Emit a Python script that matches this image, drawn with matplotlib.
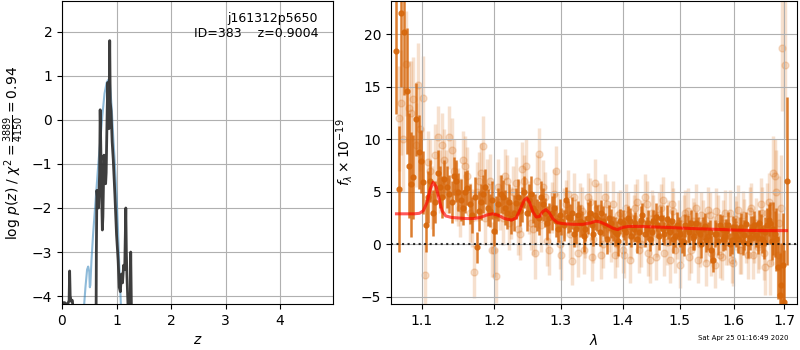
import matplotlib
matplotlib.use("Agg")
import matplotlib.pyplot as plt
from matplotlib.ticker import NullLocator, FixedLocator, FixedFormatter

# ---------------- p(z) panel data ----------------
pz_z = [0.00, 0.05, 0.10, 0.13, 0.14, 0.15, 0.17, 0.19, 0.20, 0.22,
        0.62, 0.63, 0.64, 0.66, 0.67, 0.69, 0.70, 0.71, 0.72, 0.74,
        0.75, 0.77, 0.78, 0.80, 0.81, 0.83, 0.84, 0.86, 0.875, 0.885,
        0.90, 0.92, 0.94, 0.97, 1.00, 1.03, 1.05, 1.07, 1.09, 1.11,
        1.13, 1.15, 1.17, 1.18, 1.19, 1.21, 1.22, 1.24, 1.26, 1.27,
        1.29, 1.31]
pz_logp = [-4.15, -4.15, -4.20, -4.10, -3.43, -4.00, -4.12, -4.10, -4.25, -6.0,
           -6.0, -3.0, -1.6, -1.9, -2.0, -1.2, 0.23, -0.5, -1.3, -2.5,
           -2.2, -0.8, -1.0, -1.45, -1.2, 0.3, 0.85, -0.2, 1.8, 0.4,
           0.2, -0.5, -0.9, -1.7, -2.6, -3.2, -3.8, -3.9, -3.5, -3.7,
           -3.3, -3.4, -2.0, -3.0, -3.5, -4.2, -6.0, -6.0, -3.0, -4.0,
           -6.0, -6.0]

chi_z = [0.40, 0.43, 0.46, 0.48, 0.50, 0.51, 0.52, 0.54, 0.57, 0.60,
         0.63, 0.66, 0.70, 0.74, 0.78, 0.82, 0.85, 0.88, 0.91, 0.94,
         0.97, 1.00, 1.03, 1.05, 1.07, 1.09]
chi_logp = [-4.3, -3.8, -3.4, -3.33, -3.45, -3.8, -3.75, -3.2, -2.6, -2.1,
            -1.6, -1.1, -0.5, 0.1, 0.6, 0.85, 0.91, 0.8, 0.3, -0.4,
            -1.0, -1.7, -2.6, -3.3, -3.9, -4.5]

# ---------------- spectrum panel data ----------------
# binned spectrum, set A
wave_dark = [1.067, 1.073, 1.080, 1.086, 1.092, 1.099, 1.105, 1.111, 1.118, 1.124,
             1.130, 1.137, 1.143, 1.149, 1.156, 1.162, 1.168, 1.175, 1.181, 1.187,
             1.194, 1.200, 1.206, 1.213, 1.219, 1.225, 1.232, 1.238, 1.244, 1.251,
             1.257, 1.263, 1.270, 1.276, 1.282, 1.289, 1.295, 1.301, 1.308, 1.314,
             1.320, 1.327, 1.333, 1.339, 1.346, 1.352, 1.358, 1.365, 1.371, 1.377,
             1.384, 1.390, 1.396, 1.403, 1.409, 1.415, 1.422, 1.428, 1.434, 1.441,
             1.447, 1.453, 1.460, 1.466, 1.472, 1.479, 1.485, 1.491, 1.498, 1.504,
             1.510, 1.517, 1.523, 1.529, 1.536, 1.542, 1.548, 1.555, 1.561, 1.567,
             1.574, 1.580, 1.586, 1.593, 1.599, 1.605, 1.612, 1.618, 1.624, 1.631,
             1.637, 1.643, 1.650, 1.656, 1.662, 1.669, 1.675, 1.681, 1.688, 1.694,
             1.700, 1.705]
flux_dark = [18.4, 22.0, 14.6, 5.7, 11.9, 7.9, 1.8, 6.0, 4.0, 5.5,
             6.2, 4.8, 6.5, 5.0, 3.5, 5.4, 2.8, -0.3, 4.0, 5.5,
             3.2, 1.3, 3.8, 4.5, 3.0, 2.5, 3.9, 3.2, 5.0, 4.2,
             3.5, 2.8, 4.5, 3.0, 2.5, 3.5, 1.5, 2.2, 4.2, 2.5,
             1.0, 2.8, 2.0, 1.5, 3.0, 1.0, 2.5, 3.0, 1.8, 2.5,
             1.5, 1.0, 2.2, 1.5, 2.5, 0.8, 2.0, 1.2, 2.8, 1.5,
             0.5, 2.2, 1.8, 2.5, 1.0, 1.6, 2.2, 0.8, 1.5, 0.3,
             1.8, 1.2, 0.6, 2.0, 1.0, 1.5, 0.4, 1.2, -1.5, 1.0,
             1.8, 0.5, 1.3, 0.0, 1.6, 0.8, 1.4, 0.2, 1.9, 0.7,
             1.5, 0.9, 2.0, 0.5, 1.2, 2.3, 0.3, 1.0, -2.2, -3.9,
             -5.5, 6.0]
err_dark = [6.0, 7.0, 6.0, 5.0, 3.5, 3.0, 2.5, 2.0, 2.0, 2.0,
            1.8, 1.8, 1.8, 1.8, 1.7, 1.7, 1.7, 1.5, 1.7, 1.7,
            1.6, 1.5, 1.6, 1.6, 1.5, 1.5, 1.5, 1.5, 1.5, 1.5,
            1.5, 1.5, 1.5, 1.4, 1.4, 1.4, 1.3, 1.3, 1.3, 1.3,
            1.3, 1.3, 1.2, 1.2, 1.2, 1.2, 1.2, 1.2, 1.2, 1.2,
            1.2, 1.2, 1.2, 1.1, 1.1, 1.1, 1.1, 1.1, 1.1, 1.1,
            1.1, 1.1, 1.1, 1.1, 1.1, 1.1, 1.1, 1.1, 1.1, 1.1,
            1.1, 1.1, 1.1, 1.1, 1.1, 1.1, 1.1, 1.1, 1.1, 1.1,
            1.1, 1.1, 1.1, 1.1, 1.1, 1.1, 1.2, 1.2, 1.2, 1.2,
            1.2, 1.2, 1.3, 1.3, 1.4, 1.5, 1.8, 2.2, 3.0, 4.0,
            5.0, 8.0]

# binned spectrum, set B
wave_dark_b = [1.070, 1.077, 1.083, 1.089, 1.096, 1.102, 1.108, 1.115, 1.121, 1.127,
               1.134, 1.140, 1.146, 1.153, 1.159, 1.165, 1.172, 1.178, 1.184, 1.191,
               1.197, 1.203, 1.210, 1.216, 1.222, 1.229, 1.235, 1.241, 1.248, 1.254,
               1.260, 1.267, 1.273, 1.279, 1.286, 1.292, 1.298, 1.305, 1.311, 1.317,
               1.324, 1.330, 1.336, 1.343, 1.349, 1.355, 1.362, 1.368, 1.374, 1.381,
               1.387, 1.393, 1.400, 1.406, 1.412, 1.419, 1.425, 1.431, 1.438, 1.444,
               1.450, 1.457, 1.463, 1.469, 1.476, 1.482, 1.488, 1.495, 1.501, 1.507,
               1.514, 1.520, 1.526, 1.533, 1.539, 1.545, 1.552, 1.558, 1.564, 1.571,
               1.577, 1.583, 1.590, 1.596, 1.602, 1.609, 1.615, 1.621, 1.628, 1.634,
               1.640, 1.647, 1.653, 1.659, 1.666, 1.672, 1.678, 1.684, 1.691, 1.697]
flux_dark_b = [5.3, 20.2, 7.5, 6.4, 8.8, 5.9, 4.5, 3.0, 6.8, 4.5,
               5.5, 4.0, 6.0, 4.2, 5.0, 3.8, 4.5, 3.2, 4.8, 3.5,
               4.2, 2.8, 4.8, 3.5, 4.0, 3.0, 4.5, 3.8, 3.0, 4.8,
               3.2, 2.5, 3.8, 2.0, 3.0, 2.2, 2.8, 1.8, 2.6, 3.0,
               1.5, 2.2, 0.8, 2.5, 1.8, 2.8, 1.2, 2.2, 0.5, 2.0,
               1.2, 0.3, 2.0, 1.2, 2.2, 1.5, 0.5, 2.3, 1.0, 2.0,
               1.2, 2.6, 0.8, 1.5, 2.4, 1.2, 0.5, 1.8, 1.0, 0.2,
               1.5, 2.0, 0.8, 1.3, 0.0, 1.7, 0.8, -0.5, 1.0, 0.3,
               1.5, 0.8, 1.8, 0.4, 1.2, 0.5, 1.6, 0.9, 0.1, 1.3,
               1.8, 0.6, 1.4, 0.2, 1.8, 2.0, 1.5, 0.5, -4.8, -2.0]
err_dark_b = [6.0, 6.0, 5.0, 4.0, 3.5, 3.0, 2.5, 2.2, 2.2, 2.0,
              2.0, 2.0, 2.0, 2.0, 2.0, 1.9, 1.9, 1.9, 1.8, 1.8,
              1.8, 1.8, 1.8, 1.7, 1.7, 1.7, 1.7, 1.7, 1.7, 1.7,
              1.6, 1.6, 1.6, 1.6, 1.6, 1.5, 1.5, 1.5, 1.5, 1.5,
              1.5, 1.5, 1.5, 1.5, 1.4, 1.4, 1.4, 1.4, 1.4, 1.4,
              1.4, 1.4, 1.3, 1.3, 1.3, 1.3, 1.3, 1.3, 1.3, 1.3,
              1.3, 1.3, 1.3, 1.3, 1.3, 1.3, 1.3, 1.3, 1.3, 1.3,
              1.3, 1.3, 1.3, 1.3, 1.3, 1.3, 1.3, 1.3, 1.3, 1.3,
              1.3, 1.3, 1.3, 1.3, 1.3, 1.3, 1.4, 1.4, 1.4, 1.4,
              1.4, 1.5, 1.5, 1.6, 1.7, 2.0, 2.5, 3.0, 4.0, 5.0]

# unbinned spectrum, set A
wave_light = [1.070, 1.076, 1.079, 1.083, 1.089, 1.095, 1.101, 1.104, 1.108, 1.114,
              1.121, 1.127, 1.133, 1.140, 1.146, 1.152, 1.159, 1.165, 1.171, 1.178,
              1.184, 1.190, 1.197, 1.202, 1.209, 1.216, 1.222, 1.228, 1.235, 1.241,
              1.247, 1.254, 1.260, 1.267, 1.273, 1.279, 1.286, 1.292, 1.298, 1.305,
              1.311, 1.317, 1.324, 1.330, 1.336, 1.343, 1.349, 1.355, 1.362, 1.368,
              1.374, 1.381, 1.387, 1.393, 1.400, 1.406, 1.412, 1.419, 1.425, 1.431,
              1.438, 1.444, 1.450, 1.457, 1.463, 1.469, 1.476, 1.482, 1.488, 1.495,
              1.501, 1.507, 1.514, 1.520, 1.526, 1.533, 1.539, 1.545, 1.552, 1.558,
              1.564, 1.571, 1.577, 1.583, 1.590, 1.596, 1.602, 1.609, 1.615, 1.621,
              1.628, 1.634, 1.640, 1.647, 1.653, 1.659, 1.666, 1.672, 1.678, 1.684,
              1.690, 1.696, 1.701]
flux_light = [12.0, 10.0, 17.2, 13.0, 13.8, 15.2, 13.9, -2.9, 7.8, 4.5,
              10.2, 9.5, 6.0, 9.0, 5.0, 3.5, 7.5, 3.0, -2.6, 6.0,
              9.4, 5.5, -0.5, -3.0, 4.0, 6.5, 2.0, 5.0, 1.5, 7.2,
              7.5, 2.0, -0.8, 8.6, 5.5, 0.3, 3.5, 7.0, 0.0, 3.0,
              4.8, -1.6, 2.0, 3.5, -0.5, 4.5, -1.2, 5.8, 3.5, 0.0,
              3.8, 0.5, -1.0, 2.8, -0.5, 3.5, -1.5, 2.5, 4.0, 0.0,
              4.5, -0.8, 3.0, -1.2, 2.8, 4.2, 0.2, -1.5, 3.2, 0.8,
              -2.0, 2.5, 3.2, -0.5, 1.8, -1.5, 2.8, 0.5, 3.3, -0.8,
              -2.0, 2.5, -1.2, 3.0, 0.2, -1.5, 2.4, 3.3, -0.5, 2.0,
              -1.0, 3.5, 0.5, -0.3, 3.8, -0.8, 3.0, -1.8, 6.8, 5.0,
              2.0, 18.7, 17.1]
err_light = [5.0, 5.0, 5.0, 4.5, 4.0, 4.0, 4.0, 3.0, 3.0, 3.0,
             3.0, 3.0, 3.0, 3.0, 2.8, 2.8, 2.8, 2.8, 2.5, 2.8,
             2.8, 2.6, 2.6, 2.6, 2.6, 2.6, 2.5, 2.5, 2.5, 2.5,
             2.5, 2.5, 2.5, 2.5, 2.5, 2.4, 2.4, 2.4, 2.4, 2.4,
             2.3, 2.3, 2.3, 2.3, 2.3, 2.3, 2.3, 2.3, 2.3, 2.3,
             2.2, 2.2, 2.2, 2.2, 2.2, 2.2, 2.2, 2.2, 2.2, 2.2,
             2.2, 2.2, 2.2, 2.2, 2.2, 2.2, 2.2, 2.2, 2.2, 2.2,
             2.2, 2.2, 2.2, 2.2, 2.2, 2.2, 2.2, 2.2, 2.2, 2.2,
             2.2, 2.2, 2.2, 2.2, 2.2, 2.2, 2.2, 2.3, 2.3, 2.3,
             2.3, 2.3, 2.3, 2.4, 2.5, 2.6, 2.8, 3.0, 3.5, 4.0,
             4.5, 6.0, 7.0]

# unbinned spectrum, set B
wave_light_b = [1.073, 1.086, 1.092, 1.098, 1.111, 1.117, 1.124, 1.130, 1.136, 1.143,
                1.149, 1.156, 1.162, 1.168, 1.175, 1.181, 1.187, 1.194, 1.200, 1.206,
                1.213, 1.219, 1.225, 1.232, 1.238, 1.244, 1.251, 1.257, 1.263, 1.270,
                1.276, 1.282, 1.289, 1.295, 1.301, 1.308, 1.314, 1.320, 1.327, 1.333,
                1.339, 1.346, 1.352, 1.358, 1.365, 1.371, 1.377, 1.384, 1.390, 1.396,
                1.403, 1.409, 1.415, 1.422, 1.428, 1.434, 1.441, 1.447, 1.453, 1.460,
                1.466, 1.472, 1.479, 1.485, 1.491, 1.498, 1.504, 1.510, 1.517, 1.523,
                1.529, 1.536, 1.542, 1.548, 1.555, 1.561, 1.567, 1.574, 1.580, 1.586,
                1.593, 1.599, 1.605, 1.612, 1.618, 1.624, 1.631, 1.637, 1.643, 1.650,
                1.656, 1.662, 1.669, 1.675, 1.681, 1.687, 1.693]
flux_light_b = [13.5, 12.5, 9.5, 11.0, 7.0, 8.5, 6.0, 8.0, 10.2, 7.0,
                4.5, 8.0, 6.5, 2.5, 5.0, 6.8, 2.5, 6.0, -0.5, 5.5,
                2.5, 6.0, 3.0, 5.8, 1.0, 6.0, 3.5, 1.5, 6.0, 1.8,
                4.5, -0.5, 4.8, 2.5, -1.0, 3.8, 1.0, 4.5, -0.8, 3.2,
                1.0, 4.0, 0.5, 3.5, -1.0, 4.5, 1.5, 3.8, 0.0, 3.0,
                -1.0, 2.8, 0.8, 3.5, -0.5, 2.0, 3.8, -1.5, 2.5, 1.0,
                3.5, -0.8, 2.0, 3.8, -0.5, 2.0, 0.5, 3.0, -1.2, 2.2,
                3.5, 0.0, 2.0, -1.8, 2.8, 0.5, 3.2, -1.0, 2.0, 0.2,
                3.0, -1.8, 1.8, -0.5, 2.8, 0.5, 3.2, -1.0, 2.0, 0.0,
                3.0, -2.2, 4.0, 1.0, 6.5, -1.0, 3.5]
err_light_b = [5.0, 5.0, 4.0, 4.0, 3.0, 3.0, 3.0, 3.0, 3.0, 3.0,
               2.8, 2.8, 2.8, 2.8, 2.8, 2.8, 2.6, 2.6, 2.6, 2.6,
               2.6, 2.5, 2.5, 2.5, 2.5, 2.5, 2.5, 2.5, 2.5, 2.5,
               2.4, 2.4, 2.4, 2.4, 2.4, 2.3, 2.3, 2.3, 2.3, 2.3,
               2.3, 2.3, 2.3, 2.3, 2.3, 2.2, 2.2, 2.2, 2.2, 2.2,
               2.2, 2.2, 2.2, 2.2, 2.2, 2.2, 2.2, 2.2, 2.2, 2.2,
               2.2, 2.2, 2.2, 2.2, 2.2, 2.2, 2.2, 2.2, 2.2, 2.2,
               2.2, 2.2, 2.2, 2.2, 2.2, 2.2, 2.2, 2.2, 2.2, 2.2,
               2.2, 2.2, 2.3, 2.3, 2.3, 2.3, 2.3, 2.3, 2.4, 2.4,
               2.5, 2.6, 2.8, 3.0, 3.5, 4.0, 5.0]

model_wave = [1.067, 1.080, 1.090, 1.097, 1.102, 1.107, 1.111, 1.115, 1.119, 1.123,
              1.127, 1.132, 1.140, 1.150, 1.160, 1.170, 1.180, 1.190, 1.198, 1.206,
              1.215, 1.225, 1.232, 1.238, 1.244, 1.248, 1.252, 1.257, 1.262, 1.267,
              1.272, 1.277, 1.282, 1.288, 1.295, 1.305, 1.320, 1.335, 1.348, 1.356,
              1.364, 1.375, 1.385, 1.392, 1.400, 1.410, 1.430, 1.450, 1.470, 1.500,
              1.520, 1.550, 1.580, 1.600, 1.630, 1.660, 1.690, 1.705]
model_flux = [2.9, 2.9, 2.9, 2.95, 3.2, 4.0, 5.2, 5.9, 5.5, 4.3,
              3.2, 2.7, 2.55, 2.5, 2.45, 2.45, 2.55, 2.8, 2.9, 2.75,
              2.45, 2.3, 2.5, 3.3, 4.2, 4.4, 4.0, 3.1, 2.6, 2.65,
              3.1, 3.3, 3.0, 2.4, 2.05, 1.95, 1.9, 1.9, 2.05, 2.2,
              2.1, 1.8, 1.5, 1.4, 1.6, 1.7, 1.7, 1.65, 1.62, 1.55,
              1.5, 1.45, 1.4, 1.35, 1.32, 1.3, 1.3, 1.3]

wave_ticks = [1.1, 1.2, 1.3, 1.4, 1.5, 1.6, 1.7]
wave_ticklabels = ["1.1", "1.2", "1.3", "1.4", "1.5", "1.6", "1.7"]

# ---------------- figure ----------------
fig = plt.figure(figsize=(8, 3.5), dpi=100)
ax1 = fig.add_axes([62/800, 46/350, 271/800, 303/350])
ax2 = fig.add_axes([391/800, 46/350, 406/800, 303/350])

ax1.plot(chi_z, chi_logp, color='tab:blue', alpha=0.5, lw=1.5)
ax1.plot(pz_z, pz_logp, color='#333333', alpha=0.95, lw=2)
ax1.set_xlim(0, 4.97)
ax1.set_ylim(-4.18, 2.70)
ax1.set_xticks([0, 1, 2, 3, 4])
ax1.set_yticks([-4, -3, -2, -1, 0, 1, 2])
ax1.grid(True)
ax1.set_xlabel('$z$')
ax1.set_ylabel(r'log $p(z)$ / $\chi^2=\frac{3889}{4150}=0.94$')
ax1.text(0.945, 0.965, 'j161312p5650\nID=383    z=0.9004', transform=ax1.transAxes,
         ha='right', va='top', multialignment='right', fontsize=9)

col = (0.84, 0.40, 0.04)
for w, f, e in [(wave_light, flux_light, err_light), (wave_light_b, flux_light_b, err_light_b)]:
    ax2.errorbar(w, f, yerr=e, fmt='o', color=col, alpha=0.2, ms=5,
                 elinewidth=2.5, capsize=0, zorder=1)
for w, f, e in [(wave_dark, flux_dark, err_dark), (wave_dark_b, flux_dark_b, err_dark_b)]:
    ax2.errorbar(w, f, yerr=e, fmt='o', color=col, alpha=0.85, ms=3.5,
                 elinewidth=1.8, capsize=0, zorder=2)
ax2.plot(model_wave, model_flux, color='red', alpha=0.65, lw=2.2, zorder=3)
ax2.axhline(0, color='k', ls=':', lw=1.5, alpha=0.8, zorder=4)
ax2.set_xscale('log')
ax2.set_xlim(1.06, 1.7266)
ax2.set_ylim(-5.69, 23.17)
ax2.xaxis.set_major_locator(FixedLocator(wave_ticks))
ax2.xaxis.set_major_formatter(FixedFormatter(wave_ticklabels))
ax2.xaxis.set_minor_locator(NullLocator())
ax2.set_yticks([-5, 0, 5, 10, 15, 20])
ax2.grid(True)
ax2.set_xlabel(r'$\lambda$')
ax2.set_ylabel(r'$f_\lambda \times 10^{-19}$')

fig.text(0.985, 0.027, 'Sat Apr 25 01:16:49 2020', ha='right', va='bottom', fontsize=5)

fig.savefig('out.png', dpi=100)
